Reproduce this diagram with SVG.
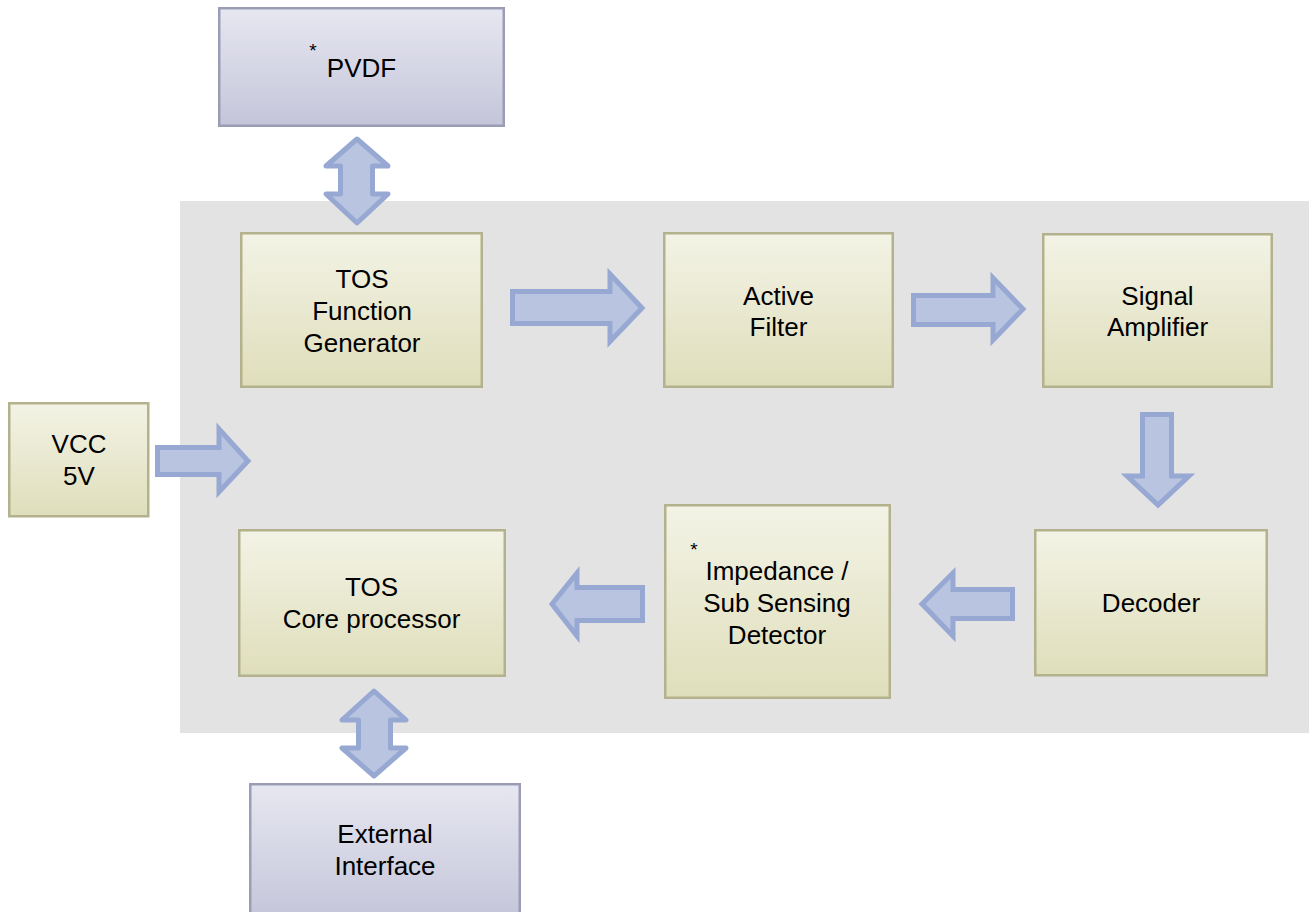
<svg xmlns="http://www.w3.org/2000/svg" width="1309" height="912" viewBox="0 0 1309 912">
<defs>
<linearGradient id="gy" x1="0" y1="0" x2="0" y2="1">
<stop offset="0" stop-color="#f3f3e6"/>
<stop offset="1" stop-color="#dfdebb"/>
</linearGradient>
<linearGradient id="gb" x1="0" y1="0" x2="0" y2="1">
<stop offset="0" stop-color="#e7e7f1"/>
<stop offset="1" stop-color="#c4c5d9"/>
</linearGradient>
<style>
.y{fill:url(#gy);stroke:#b3b28c;stroke-width:2.5}
.b{fill:url(#gb);stroke:#9b9db4;stroke-width:2.5}
.t{font-family:"Liberation Sans",Arial,sans-serif;font-size:26px;fill:#000;text-anchor:middle}
.s{font-family:"Liberation Sans",Arial,sans-serif;font-size:19px;fill:#000;text-anchor:middle}
.a{fill:#b8c4e0;stroke:#97a8d3;stroke-width:5;stroke-linejoin:miter}
.d{fill:#b8c4e0;stroke:#97a8d3;stroke-width:5;stroke-linejoin:round}
</style>
</defs>
<rect x="180" y="201" width="1129" height="532" fill="#e3e3e3"/>
<g id="pvdf">
<rect class="b" x="219.25" y="8.25" width="284.5" height="117.5"/>
<text class="s" x="313" y="56.5">*</text>
<text class="t" x="361.5" y="77">PVDF</text>
</g>
<g id="tos-fg">
<rect class="y" x="241.25" y="233.25" width="240.5" height="153.5"/>
<text class="t" x="362" y="288">TOS</text>
<text class="t" x="362" y="320">Function</text>
<text class="t" x="362" y="352">Generator</text>
</g>
<g id="active-filter">
<rect class="y" x="664.25" y="233.25" width="228.5" height="153.5"/>
<text class="t" x="778.5" y="305">Active</text>
<text class="t" x="778.5" y="336">Filter</text>
</g>
<g id="signal-amp">
<rect class="y" x="1043.25" y="234.25" width="228.5" height="152.5"/>
<text class="t" x="1157.5" y="305">Signal</text>
<text class="t" x="1157.5" y="336">Amplifier</text>
</g>
<g id="vcc">
<rect class="y" x="9.25" y="403.25" width="139" height="113"/>
<text class="t" x="79" y="453">VCC</text>
<text class="t" x="79" y="485">5V</text>
</g>
<g id="decoder">
<rect class="y" x="1035.25" y="530.25" width="231.5" height="145"/>
<text class="t" x="1151" y="612">Decoder</text>
</g>
<g id="impedance">
<rect class="y" x="665.25" y="505.25" width="224.5" height="192.5"/>
<text class="s" x="694" y="555.5">*</text>
<text class="t" x="777" y="580">Impedance /</text>
<text class="t" x="777" y="612">Sub Sensing</text>
<text class="t" x="777" y="644">Detector</text>
</g>
<g id="tos-core">
<rect class="y" x="239.25" y="530.25" width="265.5" height="145.5"/>
<text class="t" x="371.5" y="596">TOS</text>
<text class="t" x="371.5" y="628">Core processor</text>
</g>
<g id="external">
<rect class="b" x="250.25" y="784.25" width="269.5" height="135"/>
<text class="t" x="385" y="843">External</text>
<text class="t" x="385" y="875">Interface</text>
</g>
<g id="connectors">
<polygon class="d" points="357,139 388,166 372.5,166 372.5,194 388,194 357,223 326,194 340.5,194 340.5,166 326,166"/>
<polygon class="a" points="512.5,291.5 610,291.5 610,274 642,308 610,341.5 610,323.5 512.5,323.5"/>
<polygon class="a" points="913.5,295.5 993,295.5 993,278 1023,309 993,340 993,324.5 913.5,324.5"/>
<polygon class="a" points="157.5,447.5 219,447.5 219,429 248,461 219,492 219,474.5 157.5,474.5"/>
<polygon class="a" points="1142.5,414.5 1171.5,414.5 1171.5,476 1189,476 1158,505 1127,476 1142.5,476"/>
<polygon class="a" points="922,604 953,573 953,589.5 1012.5,589.5 1012.5,618.5 953,618.5 953,636"/>
<polygon class="a" points="552,604 577,573 577,587.5 642.5,587.5 642.5,620.5 577,620.5 577,636"/>
<polygon class="d" points="374,691 406,720 390.5,720 390.5,748 406,748 374,776 342,748 358.5,748 358.5,720 342,720"/>
</g>
</svg>
